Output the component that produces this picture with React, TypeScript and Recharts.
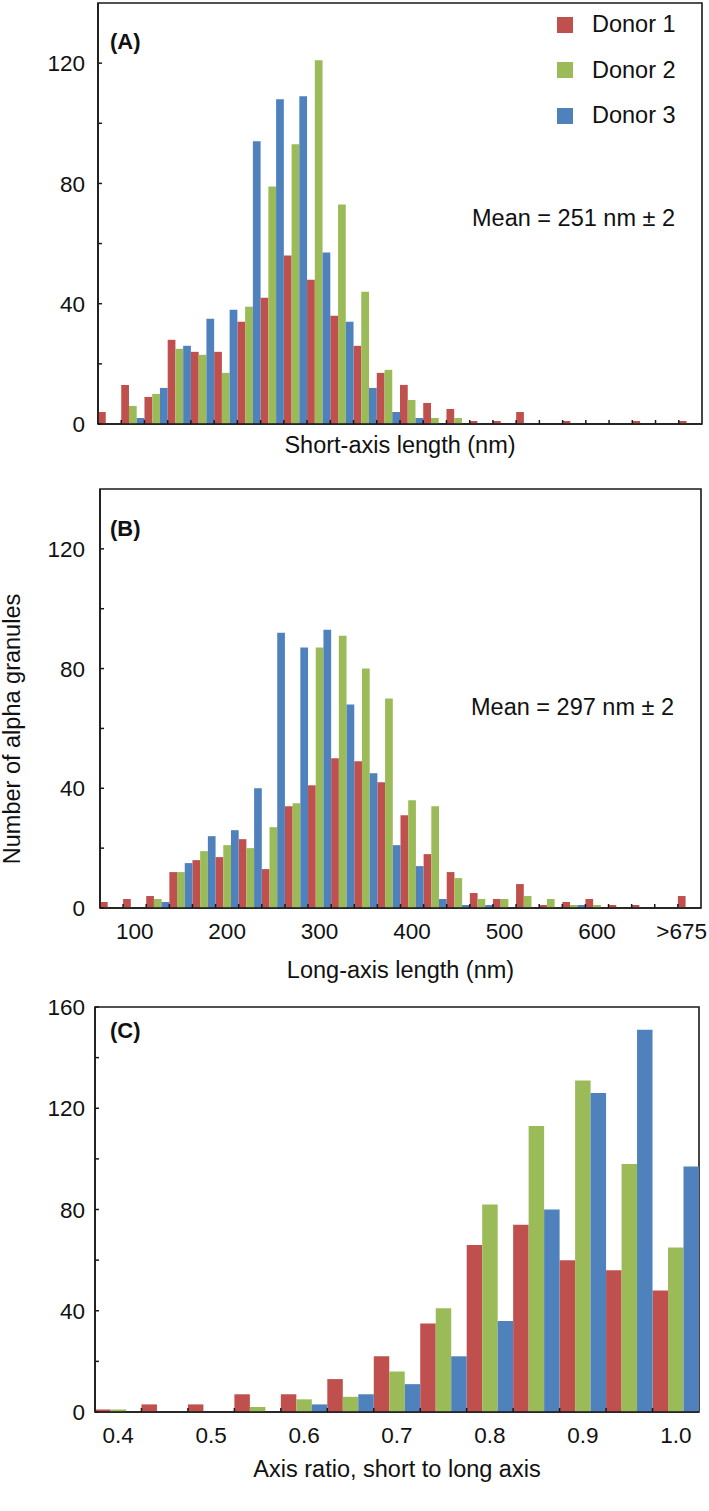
import React from 'react';
import { BarChart, Bar, XAxis, YAxis, ReferenceArea, Legend } from 'recharts';

// ---------- data ----------
const DONORS = ['Donor 1', 'Donor 2', 'Donor 3'];
const COLORS = ['#C0504D', '#9BBB59', '#4F81BD'];

// Panel A: short-axis length histogram (26 bins, no tick labels)
const shortBins = ['50', '75', '100', '125', '150', '175', '200', '225', '250', '275', '300', '325', '350', '375', '400', '425', '450', '475', '500', '525', '550', '575', '600', '625', '650', '675'];
const shortDonor1 = [4, 13, 9, 28, 24, 24, 34, 42, 56, 48, 36, 26, 17, 13, 7, 5, 1, 1, 4, 0, 1, 0, 0, 1, 0, 1];
const shortDonor2 = [0, 6, 10, 25, 23, 17, 39, 79, 93, 121, 73, 44, 18, 8, 2, 2, 0, 0, 0, 0, 0, 0, 0, 0, 0, 0];
const shortDonor3 = [0, 2, 12, 26, 35, 38, 94, 108, 109, 57, 34, 12, 4, 2, 0, 0, 0, 0, 0, 0, 0, 0, 0, 0, 0, 0];
const shortTickLabels: string[] = [];

// Panel B: long-axis length histogram
const longBins = ['75', '100', '125', '150', '175', '200', '225', '250', '275', '300', '325', '350', '375', '400', '425', '450', '475', '500', '525', '550', '575', '600', '625', '650', '675', '>675'];
const longDonor1 = [2, 3, 4, 12, 16, 17, 23, 13, 34, 41, 50, 49, 42, 31, 18, 12, 5, 3, 8, 1, 2, 3, 1, 1, 0, 4];
const longDonor2 = [0, 0, 3, 12, 19, 21, 20, 27, 35, 87, 91, 80, 70, 36, 34, 10, 3, 3, 4, 3, 1, 1, 0, 0, 0, 0];
const longDonor3 = [0, 0, 2, 15, 24, 26, 40, 92, 87, 93, 68, 45, 21, 14, 3, 1, 1, 0, 0, 0, 1, 0, 0, 0, 0, 0];
const longTickLabels = ['100', '200', '300', '400', '500', '600', '>675'];

// Panel C: axis ratio histogram
const ratioBins = ['0.4', '0.45', '0.5', '0.55', '0.6', '0.65', '0.7', '0.75', '0.8', '0.85', '0.9', '0.95', '1.0'];
const ratioDonor1 = [1, 3, 3, 7, 7, 13, 22, 35, 66, 74, 60, 56, 48];
const ratioDonor2 = [1, 0, 0, 2, 5, 6, 16, 41, 82, 113, 131, 98, 65];
const ratioDonor3 = [0, 0, 0, 0, 3, 7, 11, 22, 36, 80, 126, 151, 97];
const ratioTickLabels = ['0.4', '0.5', '0.6', '0.7', '0.8', '0.9', '1.0'];

const countYTicks = [0, 20, 40, 60, 80, 100, 120];
const countYLabels = [0, 40, 80, 120];
const ratioYTicks = [0, 20, 40, 60, 80, 100, 120, 140, 160];
const ratioYLabels = [0, 40, 80, 120, 160];

const build = (bins: string[], a: number[], b: number[], c: number[]) =>
  bins.map((bin, i) => ({ bin, d1: a[i], d2: b[i], d3: c[i] }));

const shortData = build(shortBins, shortDonor1, shortDonor2, shortDonor3);
const longData = build(longBins, longDonor1, longDonor2, longDonor3);
const ratioData = build(ratioBins, ratioDonor1, ratioDonor2, ratioDonor3);

// ---------- styles ----------
const FONT = '"Liberation Sans", Arial, Helvetica, sans-serif';
const INK = '#1a1a1a';
const TICK_FS = 22.5;
const TEXT_FS = 23.5;
const W = 709;

const makeXTick = (labels: string[], count: number) => (props: any) => {
  const { x, y, payload, index } = props;
  const half = payload && typeof payload.offset === 'number' ? payload.offset : 0;
  const value = String(payload.value);
  const show = labels.includes(value);
  const estW = value.length * 0.556 * TICK_FS;
  let tx = x;
  let anchor: 'middle' | 'end' = 'middle';
  if (x + estW / 2 > W - 2) {
    tx = W - 2;
    anchor = 'end';
  }
  return (
    <g>
      {index > 0 && (
        <line x1={x - half} x2={x - half} y1={y} y2={y - 4} stroke={INK} strokeWidth={1.5} />
      )}
      {show && (
        <text x={tx} y={y + 15} dy="0.71em" textAnchor={anchor} fontSize={TICK_FS} fill="#111" fontFamily={FONT}>
          {value}
        </text>
      )}
    </g>
  );
};

const makeYTick = (labels: number[], gap: number) => (props: any) => {
  const { x, y, payload } = props;
  return (
    <g>
      <line x1={x} x2={x + 4} y1={y} y2={y} stroke={INK} strokeWidth={1.5} />
      {labels.includes(payload.value) && (
        <text x={x - gap} y={y} dy="0.36em" textAnchor="end" fontSize={TICK_FS} fill="#111" fontFamily={FONT}>
          {payload.value}
        </text>
      )}
    </g>
  );
};

const LegendContent = (props: any) => {
  const items = props.payload || [];
  return (
    <div style={{ fontFamily: FONT, fontSize: TEXT_FS, color: '#111' }}>
      {items.map((p: any) => (
        <div key={p.value} style={{ display: 'flex', alignItems: 'center', height: 45.5 }}>
          <span style={{ display: 'inline-block', width: 16, height: 16, background: p.color, marginRight: 19 }} />
          <span>{p.value}</span>
        </div>
      ))}
    </div>
  );
};

type PanelProps = {
  top: number;
  height: number;
  margin: { top: number; right: number; bottom: number; left: number };
  yWidth: number;
  xHeight: number;
  data: any[];
  bins: string[];
  tickLabels: string[];
  yMax: number;
  yTicks: number[];
  yLabels: number[];
  yGap: number;
  title: string;
  titleOffset: number;
  legend?: boolean;
};

const Panel = (p: PanelProps) => {
  const plotW = W - p.margin.left - p.margin.right - p.yWidth;
  const barSize = plotW / p.bins.length / 3 - 0.001;
  return (
    <div style={{ position: 'absolute', left: 0, top: p.top, width: W, height: p.height }}>
      <BarChart width={W} height={p.height} data={p.data} margin={p.margin} barCategoryGap={0} barGap={0}>
        <XAxis
          dataKey="bin"
          type="category"
          height={p.xHeight}
          interval={0}
          tickLine={false}
          tickSize={0}
          tickMargin={0}
          axisLine={{ stroke: INK, strokeWidth: 1.6 }}
          tick={makeXTick(p.tickLabels, p.bins.length)}
          label={{ value: p.title, position: 'insideTop', offset: p.titleOffset, fontSize: TEXT_FS, fill: '#111', fontFamily: FONT }}
        />
        <YAxis
          type="number"
          domain={[0, p.yMax]}
          ticks={p.yTicks}
          interval={0}
          width={p.yWidth}
          tickLine={false}
          tickSize={0}
          tickMargin={0}
          axisLine={{ stroke: INK, strokeWidth: 1.6 }}
          tick={makeYTick(p.yLabels, p.yGap)}
          allowDataOverflow
        />
        {p.legend && (
          <Legend
            layout="vertical"
            align="center"
            verticalAlign="middle"
            wrapperStyle={{ top: 2, left: 557, width: 150 }}
            content={LegendContent}
          />
        )}
        <Bar dataKey="d1" name={DONORS[0]} fill={COLORS[0]} barSize={barSize} isAnimationActive={false} />
        <Bar dataKey="d2" name={DONORS[1]} fill={COLORS[1]} barSize={barSize} isAnimationActive={false} />
        <Bar dataKey="d3" name={DONORS[2]} fill={COLORS[2]} barSize={barSize} isAnimationActive={false} />
        <ReferenceArea
          x1={p.bins[0]}
          x2={p.bins[p.bins.length - 1]}
          y1={0}
          y2={p.yMax}
          fill="none"
          fillOpacity={0}
          stroke={INK}
          strokeWidth={1.6}
          ifOverflow="visible"
        />
      </BarChart>
    </div>
  );
};

export default function App() {
  return (
    <div style={{ position: 'absolute', left: 0, top: 0, width: W, height: 1511, background: '#fff', fontFamily: FONT }}>
      <Panel
        top={0}
        height={470}
        margin={{ top: 3, right: 7, bottom: 0, left: 0 }}
        yWidth={98}
        xHeight={46}
        data={shortData}
        bins={shortBins}
        tickLabels={shortTickLabels}
        yMax={140}
        yTicks={countYTicks}
        yLabels={countYLabels}
        yGap={13}
        title="Short-axis length (nm)"
        titleOffset={12}
        legend
      />
      <Panel
        top={470}
        height={520}
        margin={{ top: 19, right: 8, bottom: 0, left: 0 }}
        yWidth={100}
        xHeight={82}
        data={longData}
        bins={longBins}
        tickLabels={longTickLabels}
        yMax={140}
        yTicks={countYTicks}
        yLabels={countYLabels}
        yGap={15}
        title="Long-axis length (nm)"
        titleOffset={53}
      />
      <Panel
        top={990}
        height={521}
        margin={{ top: 17, right: 10, bottom: 0, left: 0 }}
        yWidth={95}
        xHeight={99}
        data={ratioData}
        bins={ratioBins}
        tickLabels={ratioTickLabels}
        yMax={160}
        yTicks={ratioYTicks}
        yLabels={ratioYLabels}
        yGap={10}
        title="Axis ratio, short to long axis"
        titleOffset={48}
      />
      <svg
        width={W}
        height={1511}
        style={{ position: 'absolute', left: 0, top: 0, pointerEvents: 'none' }}
        fontFamily={FONT}
      >
        <text x={110} y={49} fontSize={22} fontWeight="bold" fill="#111">(A)</text>
        <text x={110} y={536} fontSize={22} fontWeight="bold" fill="#111">(B)</text>
        <text x={110} y={1038} fontSize={22} fontWeight="bold" fill="#111">(C)</text>
        <text x={675} y={226} fontSize={TEXT_FS} textAnchor="end" fill="#111">Mean = 251 nm ± 2</text>
        <text x={674} y={715} fontSize={TEXT_FS} textAnchor="end" fill="#111">Mean = 297 nm ± 2</text>
        <text transform="translate(20,729) rotate(-90)" fontSize={TEXT_FS} textAnchor="middle" fill="#111">
          Number of alpha granules
        </text>
      </svg>
    </div>
  );
}
